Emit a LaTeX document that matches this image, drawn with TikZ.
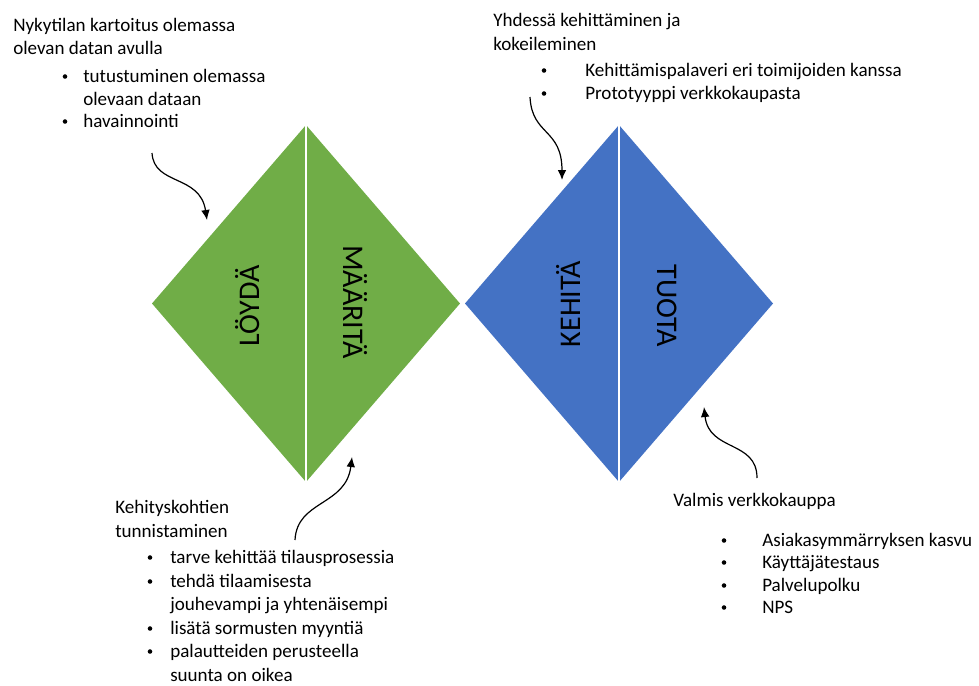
\documentclass[tikz,border=0pt]{standalone}
\usepackage{fontspec}
\setmainfont{Carlito}
\usetikzlibrary{arrows.meta}
\definecolor{phasegreen}{HTML}{70AD47}
\definecolor{phaseblue}{HTML}{4472C4}

\begin{document}
\begin{tikzpicture}[x=0.75pt,y=-0.75pt,
  body/.style={font=\fontsize{14.3pt}{17pt}\selectfont, anchor=base west, inner sep=0pt},
  bullet/.style={circle, fill=black, inner sep=0pt, minimum size=3.4pt},
  phase/.style={font=\fontsize{22.5pt}{27pt}\selectfont, inner sep=0pt, text height=0.64em, text depth=0pt},
  callout/.style={-{Latex[length=7.5pt,width=6.5pt]}, line width=0.9pt, black},
  divider/.style={white, line width=2.2pt}]
\useasboundingbox (0,0) rectangle (979,686);

% --- green diamond: find / define
\coordinate (gL) at (152,303.5);
\coordinate (gT) at (306,125);
\coordinate (gR) at (460,303.5);
\coordinate (gB) at (306,482);
\fill[phasegreen] (gL) -- (gT) -- (gR) -- (gB) -- cycle;
\draw[divider] (gT) -- (gB);

% --- blue diamond: develop / deliver
\coordinate (bL) at (465,303.5);
\coordinate (bT) at (619,125);
\coordinate (bR) at (773,303.5);
\coordinate (bB) at (619,482);
\fill[phaseblue] (bL) -- (bT) -- (bR) -- (bB) -- cycle;
\draw[divider] (bT) -- (bB);

% --- phase labels
\node[phase, rotate=90]  (loyda)   at (255,306) {LÖYDÄ};
\node[phase, rotate=-90] (maarita) at (348,302) {MÄÄRITÄ};
\node[phase, rotate=90]  (kehita)  at (576,304) {KEHITÄ};
\node[phase, rotate=-90] (tuota)   at (662,306) {TUOTA};

% --- top left text block
\node[body] (tl1) at (13,31)  {Nykytilan kartoitus olemassa};
\node[body] (tl2) at (13,54)  {olevan datan avulla};
\node[bullet] (tlb1) at (65,76.5) {};
\node[body] (tlt1) at (83,82)  {tutustuminen olemassa};
\node[body] (tlt2) at (83,105) {olevaan dataan};
\node[bullet] (tlb3) at (65,121.5) {};
\node[body] (tlt3) at (83,127) {havainnointi};

% --- top right text block
\node[body] (tr1) at (493,26) {Yhdessä kehittäminen ja};
\node[body] (tr2) at (493,50) {kokeileminen};
\node[bullet] (trb1) at (544,70.5) {};
\node[body] (trt1) at (585,76) {Kehittämispalaveri eri toimijoiden kanssa};
\node[bullet] (trb2) at (544,93.5) {};
\node[body] (trt2) at (585,99) {Prototyyppi verkkokaupasta};

% --- bottom left text block
\node[body] (bl1) at (115,513) {Kehityskohtien};
\node[body] (bl2) at (115,537) {tunnistaminen};
\node[bullet] (blb1) at (150,557.5) {};
\node[body] (blt1) at (170,563) {tarve kehittää tilausprosessia};
\node[bullet] (blb2) at (150,581.5) {};
\node[body] (blt2) at (170,587) {tehdä tilaamisesta};
\node[body] (blt3) at (170,610) {jouhevampi ja yhtenäisempi};
\node[bullet] (blb4) at (150,628.5) {};
\node[body] (blt4) at (170,634) {lisätä sormusten myyntiä};
\node[bullet] (blb5) at (150,651.5) {};
\node[body] (blt5) at (170,657) {palautteiden perusteella};
\node[body] (blt6) at (170,681) {suunta on oikea};

% --- bottom right text block
\node[body] (br1) at (673,506) {Valmis verkkokauppa};
\node[bullet] (brb1) at (724,540.5) {};
\node[body] (brt1) at (762,546) {Asiakasymmärryksen kasvu};
\node[bullet] (brb2) at (724,562.5) {};
\node[body] (brt2) at (762,568) {Käyttäjätestaus};
\node[bullet] (brb3) at (724,585.5) {};
\node[body] (brt3) at (762,591) {Palvelupolku};
\node[bullet] (brb4) at (724,607.5) {};
\node[body] (brt4) at (762,613) {NPS};

% --- curved callout arrows
\coordinate (a1s) at (152,153);
\coordinate (a1e) at (207,220);
\draw[callout] (a1s) .. controls (154,186) and (200,174) .. (a1e);

\coordinate (a2s) at (295,540);
\coordinate (a2e) at (352,457);
\draw[callout] (a2s) .. controls (297,500) and (346,506) .. (a2e);

\coordinate (a3s) at (530,97);
\coordinate (a3e) at (562,180);
\draw[callout] (a3s) .. controls (532,136) and (562,128) .. (a3e);

\coordinate (a4s) at (757,478);
\coordinate (a4e) at (704,407);
\draw[callout] (a4s) .. controls (757,440) and (709,452) .. (a4e);
\end{tikzpicture}
\end{document}
